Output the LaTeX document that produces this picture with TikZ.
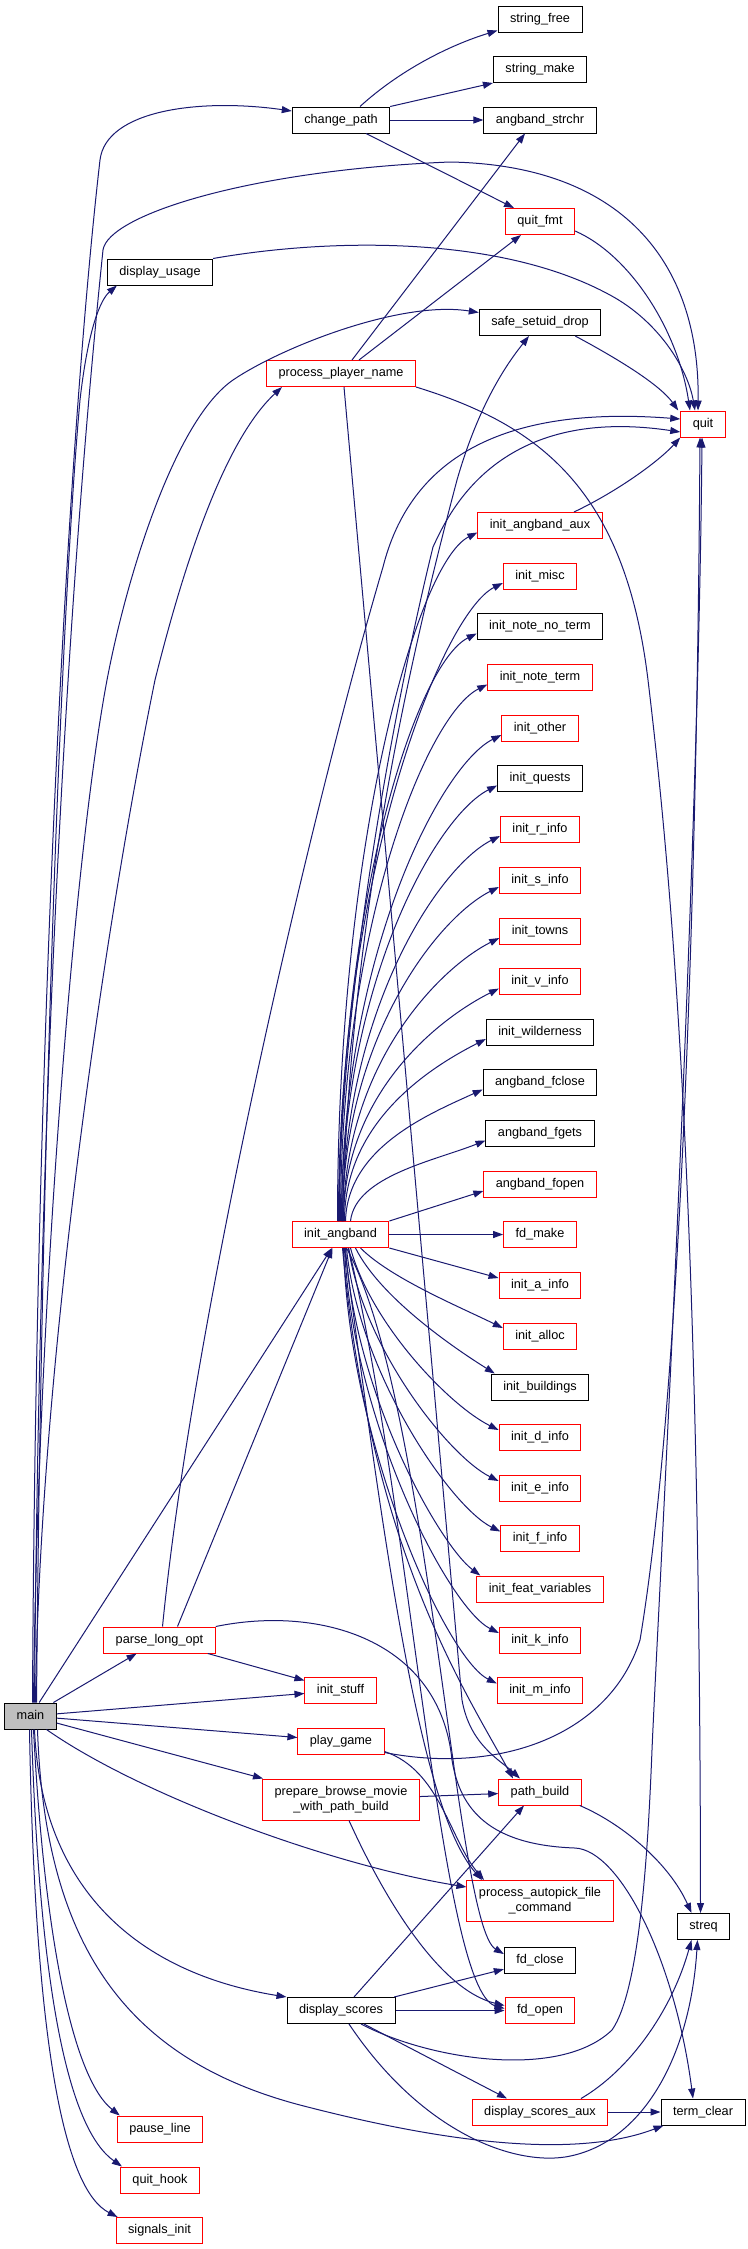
\documentclass[tikz,border=0pt]{standalone}
\usepackage{fontspec}
\setmainfont{Liberation Sans}
\usetikzlibrary{arrows.meta}

\begin{document}
\begin{tikzpicture}[x=1pt, y=-1pt,
    fbox/.style={rectangle, draw=black, line width=1pt, fill=white,
                 inner xsep=12pt, inner ysep=0pt,
                 font=\fontsize{12.7}{15}\selectfont},
    fn/.style={fbox, minimum height=26pt, text height=9.3pt, text depth=2.6pt},
    fntwo/.style={fbox, minimum height=41pt, align=center},
    trunc/.style={draw=truncred},
    root/.style={fill=rootgray},
    call/.style={line width=1pt, edgeblue,
                 -{Triangle[length=10pt, width=7pt]}}
]
% Farben wie im Doxygen-Aufrufgraphen
\definecolor{edgeblue}{HTML}{191970}
\definecolor{truncred}{HTML}{FF0000}
\definecolor{rootgray}{HTML}{BFBFBF}

\fill[white] (0,0) rectangle (747,2249);
\useasboundingbox (0,0) rectangle (747,2249);

% linke Spalten
\node[fn, root] (main) at (30.5,1716) {main};
\node[fn] (chpath) at (341,120) {change\_path};
\node[fn] (usage) at (160,272) {display\_usage};
\node[fn, trunc] (ppname) at (341,373.5) {process\_player\_name};
\node[fn, trunc] (angband) at (340.5,1234.5) {init\_angband};
\node[fn, trunc] (longopt) at (159.5,1640) {parse\_long\_opt};
\node[fn, trunc] (stuff) at (340.5,1690.5) {init\_stuff};
\node[fn, trunc] (playgame) at (341,1741) {play\_game};
\node[fntwo, trunc] (browse) at (341,1799.5) {prepare\_browse\_movie\\\_with\_path\_build};
\node[fn] (scores) at (341,2010.5) {display\_scores};
\node[fn, trunc] (pauseline) at (160,2129) {pause\_line};
\node[fn, trunc] (quithook) at (160,2180) {quit\_hook};
\node[fn, trunc] (signals) at (159.5,2230.5) {signals\_init};

% mittlere Spalte
\node[fn] (strfree) at (540,19) {string\_free};
\node[fn] (strmake) at (540,69.5) {string\_make};
\node[fn] (strchr) at (540,120) {angband\_strchr};
\node[fn, trunc] (quitfmt) at (540,221.5) {quit\_fmt};
\node[fn] (safedrop) at (540,322.5) {safe\_setuid\_drop};
\node[fn, trunc] (aux) at (540,525.5) {init\_angband\_aux};
\node[fn, trunc] (misc) at (540,576) {init\_misc};
\node[fn] (notenoterm) at (540,626.5) {init\_note\_no\_term};
\node[fn, trunc] (noteterm) at (540,677.5) {init\_note\_term};
\node[fn, trunc] (other) at (540,728) {init\_other};
\node[fn] (quests) at (540,778.5) {init\_quests};
\node[fn, trunc] (rinfo) at (540,829) {init\_r\_info};
\node[fn, trunc] (sinfo) at (540,880) {init\_s\_info};
\node[fn, trunc] (towns) at (540,931) {init\_towns};
\node[fn, trunc] (vinfo) at (540,981.5) {init\_v\_info};
\node[fn] (wild) at (540,1032) {init\_wilderness};
\node[fn] (fclose) at (540,1082.5) {angband\_fclose};
\node[fn] (fgets) at (540,1133.5) {angband\_fgets};
\node[fn, trunc] (fopen) at (540,1184) {angband\_fopen};
\node[fn, trunc] (fdmake) at (540,1234.5) {fd\_make};
\node[fn, trunc] (ainfo) at (540,1285) {init\_a\_info};
\node[fn, trunc] (alloc) at (540,1336) {init\_alloc};
\node[fn] (buildings) at (540,1387) {init\_buildings};
\node[fn, trunc] (dinfo) at (540,1437) {init\_d\_info};
\node[fn, trunc] (einfo) at (540,1488) {init\_e\_info};
\node[fn, trunc] (finfo) at (540,1538.5) {init\_f\_info};
\node[fn, trunc] (featvars) at (540,1589) {init\_feat\_variables};
\node[fn, trunc] (kinfo) at (540,1640) {init\_k\_info};
\node[fn, trunc] (minfo) at (540,1690.5) {init\_m\_info};
\node[fn, trunc] (pathbuild) at (540,1792) {path\_build};
\node[fntwo, trunc] (autopick) at (540,1901) {process\_autopick\_file\\\_command};
\node[fn] (fdclose) at (540,1960) {fd\_close};
\node[fn, trunc] (fdopen) at (540,2010.5) {fd\_open};
\node[fn, trunc] (scoresaux) at (540,2112) {display\_scores\_aux};

% rechte Spalte
\node[fn, trunc] (quit) at (703,424) {quit};
\node[fn] (streq) at (703.5,1926.5) {streq};
\node[fn] (termclear) at (703,2112) {term\_clear};

% main
\draw[call] ([xshift=2pt]main.north) .. controls (36,1000) and (70,420) .. (100,160)
    .. controls (106,110) and (200,98) .. ([yshift=9pt]chpath.west);
\draw[call] ([xshift=4pt]main.north) .. controls (40,1000) and (75,520) .. (103,250)
    .. controls (108,215) and (250,170) .. (450,162)
    .. controls (620,165) and (700,260) .. ([xshift=-5pt]quit.north);
\draw[call] ([xshift=6pt]main.north) .. controls (42,1100) and (62,600) .. (80,400)
    .. controls (88,330) and (100,300) .. ([xshift=10pt]usage.south west);
\draw[call] ([xshift=3pt]main.north) .. controls (38,1300) and (75,850) .. (107,680)
    .. controls (127,575) and (175,420) .. (233,380)
    .. controls (280,348) and (400,300) .. ([yshift=10pt]safedrop.west);
\draw[call] ([xshift=5pt]main.north) .. controls (40,1350) and (110,900) .. (155,680)
    .. controls (185,560) and (225,440) .. ([xshift=16pt]ppname.south west);
\draw[call] (main) -- (angband);
\draw[call] (main) -- (longopt);
\draw[call] (main) -- (stuff);
\draw[call] (main) -- (playgame);
\draw[call] (main) -- (browse);
\draw[call] ([xshift=16pt]main.south) .. controls (140,1795) and (330,1865) .. ([yshift=14pt]autopick.west);
\draw[call] ([xshift=4pt]main.south) .. controls (42,1900) and (150,1975) .. (scores.north west);
\draw[call] ([xshift=7pt]main.south) .. controls (45,1950) and (130,2060) .. (300,2105)
    .. controls (400,2131) and (560,2165) .. ([xshift=3pt]termclear.south west);
\draw[call] ([xshift=3pt]main.south) .. controls (45,1950) and (75,2080) .. ([xshift=3pt]pauseline.north west);
\draw[call] ([xshift=1pt]main.south) .. controls (40,2000) and (70,2130) .. ([xshift=2pt]quithook.north west);
\draw[call] ([xshift=-1pt]main.south) .. controls (35,2050) and (65,2190) .. ([xshift=2pt]signals.north west);

% change_path, display_usage, safe_setuid_drop
\draw[call] ([xshift=19pt]chpath.north) .. controls (400,70) and (450,45) .. ([yshift=2pt]strfree.south west);
\draw[call] (chpath.north east) -- (strmake.south west);
\draw[call] (chpath) -- (strchr);
\draw[call] ([xshift=25pt]chpath.south) -- ([xshift=-26pt]quitfmt.north);
\draw[call] ([yshift=4pt]quitfmt.south east) .. controls (630,255) and (678,330) .. ([xshift=-13pt]quit.north);
\draw[call] (usage.north east) .. controls (330,238) and (500,235) .. (610,295)
    .. controls (660,322) and (688,370) .. ([xshift=-8pt]quit.north);
\draw[call] ([xshift=-26pt]safedrop.south east) .. controls (620,360) and (660,385) .. ([xshift=-2pt]quit.north west);

% process_player_name
\draw[call] ([xshift=11pt]ppname.north) -- ([xshift=-15pt]strchr.south);
\draw[call] ([xshift=18pt]ppname.north) -- ([xshift=-19pt]quitfmt.south);
\draw[call] ([xshift=3pt]ppname.south) -- (462,1700)
    .. controls (470,1745) and (500,1760) .. ([xshift=-20pt]pathbuild.north);
\draw[call] (ppname.south east) .. controls (540,425) and (625,490) .. (648,680)
    .. controls (672,880) and (700,1200) .. ([xshift=-3pt]streq.north);

% init_angband nach oben
\draw[call] ([xshift=-2pt]angband.north) .. controls (342,950) and (410,640) .. (433,547)
    .. controls (450,510) and (500,405) .. ([yshift=-8pt]quit.west);
\draw[call] ([xshift=2pt]angband.north) .. controls (350,900) and (420,620) .. (457,480)
    .. controls (480,400) and (510,360) .. ([xshift=-11pt]safedrop.south);
\draw[call] ([xshift=-3pt]angband.north) .. controls +(0,-380) and +(-60,30) .. ([yshift=-7pt]aux.west);
\draw[call] ([xshift=-2pt]angband.north) .. controls +(0,-351) and +(-60,30) .. ([yshift=-7pt]misc.west);
\draw[call] ([xshift=-1pt]angband.north) .. controls +(0,-324) and +(-60,30) .. ([yshift=-7pt]notenoterm.west);
\draw[call] (angband.north) .. controls +(0,-296) and +(-60,30) .. ([yshift=-7pt]noteterm.west);
\draw[call] ([xshift=1pt]angband.north) .. controls +(0,-268) and +(-60,30) .. ([yshift=-7pt]other.west);
\draw[call] ([xshift=1pt]angband.north) .. controls +(0,-240) and +(-60,30) .. ([yshift=-7pt]quests.west);
\draw[call] ([xshift=2pt]angband.north) .. controls +(0,-212) and +(-60,30) .. ([yshift=-7pt]rinfo.west);
\draw[call] ([xshift=2pt]angband.north) .. controls +(0,-184) and +(-60,30) .. ([yshift=-7pt]sinfo.west);
\draw[call] ([xshift=3pt]angband.north) .. controls +(0,-156) and +(-60,30) .. ([yshift=-7pt]towns.west);
\draw[call] ([xshift=3pt]angband.north) .. controls +(0,-128) and +(-60,30) .. ([yshift=-7pt]vinfo.west);
\draw[call] ([xshift=4pt]angband.north) .. controls +(0,-100) and +(-55,28) .. ([yshift=-7pt]wild.west);
\draw[call] ([xshift=5pt]angband.north) .. controls +(2,-73) and +(-55,25) .. ([yshift=-7pt]fclose.west);
\draw[call] ([xshift=10pt]angband.north) .. controls +(5,-45) and +(-50,20) .. ([yshift=-7pt]fgets.west);
\draw[call] (angband.north east) -- ([yshift=-7pt]fopen.west);

% init_angband nach unten
\draw[call] (angband) -- (fdmake);
\draw[call] (angband.south east) -- ([yshift=7pt]ainfo.west);
\draw[call] ([xshift=20pt]angband.south) .. controls +(30,30) and +(-45,-22) .. ([yshift=8pt]alloc.west);
\draw[call] ([xshift=15pt]angband.south) .. controls +(25,50) and +(-40,-25) .. ([xshift=4pt]buildings.north west);
\draw[call] ([xshift=10pt]angband.south) .. controls +(20,75) and +(-50,-25) .. ([yshift=7pt]dinfo.west);
\draw[call] ([xshift=8pt]angband.south) .. controls +(15,100) and +(-50,-25) .. ([yshift=7pt]einfo.west);
\draw[call] ([xshift=6pt]angband.south) .. controls +(12,125) and +(-50,-25) .. ([yshift=7pt]finfo.west);
\draw[call] ([xshift=5pt]angband.south) .. controls +(10,150) and +(-40,-30) .. ([xshift=4pt]featvars.north west);
\draw[call] ([xshift=4pt]angband.south) .. controls +(8,175) and +(-50,-25) .. ([yshift=7pt]kinfo.west);
\draw[call] ([xshift=3pt]angband.south) .. controls +(6,200) and +(-50,-25) .. ([yshift=7pt]minfo.west);
\draw[call] ([xshift=2pt]angband.south) .. controls (370,1550) and (465,1690) .. ([xshift=-27pt]pathbuild.north);
\draw[call] ([xshift=4pt]angband.south) .. controls (385,1550) and (420,1810) .. ([xshift=-58pt]autopick.north);
\draw[call] ([xshift=6pt]angband.south) .. controls (430,1400) and (455,1925) .. ([yshift=6pt]fdclose.west);
\draw[call] ([xshift=8pt]angband.south) .. controls (410,1500) and (440,1990) .. ([yshift=2pt]fdopen.west);

\draw[call] ([xshift=34pt]aux.north) .. controls (620,490) and (660,460) .. (quit.south west);

% parse_long_opt
\draw[call] ([xshift=18pt]longopt.north) -- ([xshift=-8pt]angband.south);
\draw[call] ([xshift=3pt]longopt.north) .. controls (195,1300) and (320,780) .. (383,567)
    .. controls (410,460) and (500,405) .. ([yshift=5pt]quit.west);
\draw[call] (longopt) -- (stuff);
\draw[call] (longopt.north east) .. controls (320,1605) and (440,1640) .. (452,1760)
    .. controls (460,1810) and (490,1845) .. (575,1848)
    .. controls (620,1850) and (675,1960) .. ([xshift=-10pt]termclear.north);

% play_game, prepare_browse_movie_with_path_build, path_build
\draw[call] ([yshift=2pt]playgame.south east) .. controls (500,1775) and (610,1735) .. (640,1640)
    .. controls (680,1400) and (697,900) .. ([xshift=-3pt]quit.south);
\draw[call] ([yshift=3pt]playgame.south east) .. controls (440,1770) and (450,1840) .. ([xshift=-56pt]autopick.north);
\draw[call] (browse) -- (pathbuild);
\draw[call] ([xshift=8pt]browse.south) .. controls (385,1900) and (440,1990) .. ([yshift=5pt]fdopen.west);
\draw[call] ([xshift=-2pt]pathbuild.south east) .. controls (625,1825) and (670,1865) .. ([xshift=-12pt]streq.north);

% display_scores
\draw[call] ([xshift=13pt]scores.north) -- ([xshift=-16pt]pathbuild.south);
\draw[call] (scores) -- (fdclose);
\draw[call] (scores) -- (fdopen);
\draw[call] ([xshift=23pt]scores.south) -- ([xshift=-33pt]scoresaux.north);
\draw[call] ([xshift=20pt]scores.south) .. controls (430,2060) and (560,2080) .. (612,2030)
    .. controls (640,1990) and (648,1850) .. (652,1750)
    .. controls (656,1650) and (698,900) .. ([xshift=-1pt]quit.south);
\draw[call] ([xshift=8pt]scores.south) .. controls (420,2130) and (510,2165) .. (565,2157)
    .. controls (640,2145) and (690,2060) .. ([xshift=-6pt]streq.south);
\draw[call] ([xshift=41pt]scoresaux.north) .. controls (630,2070) and (672,2010) .. ([xshift=-12pt]streq.south);
\draw[call] (scoresaux) -- (termclear);
\end{tikzpicture}
\end{document}
